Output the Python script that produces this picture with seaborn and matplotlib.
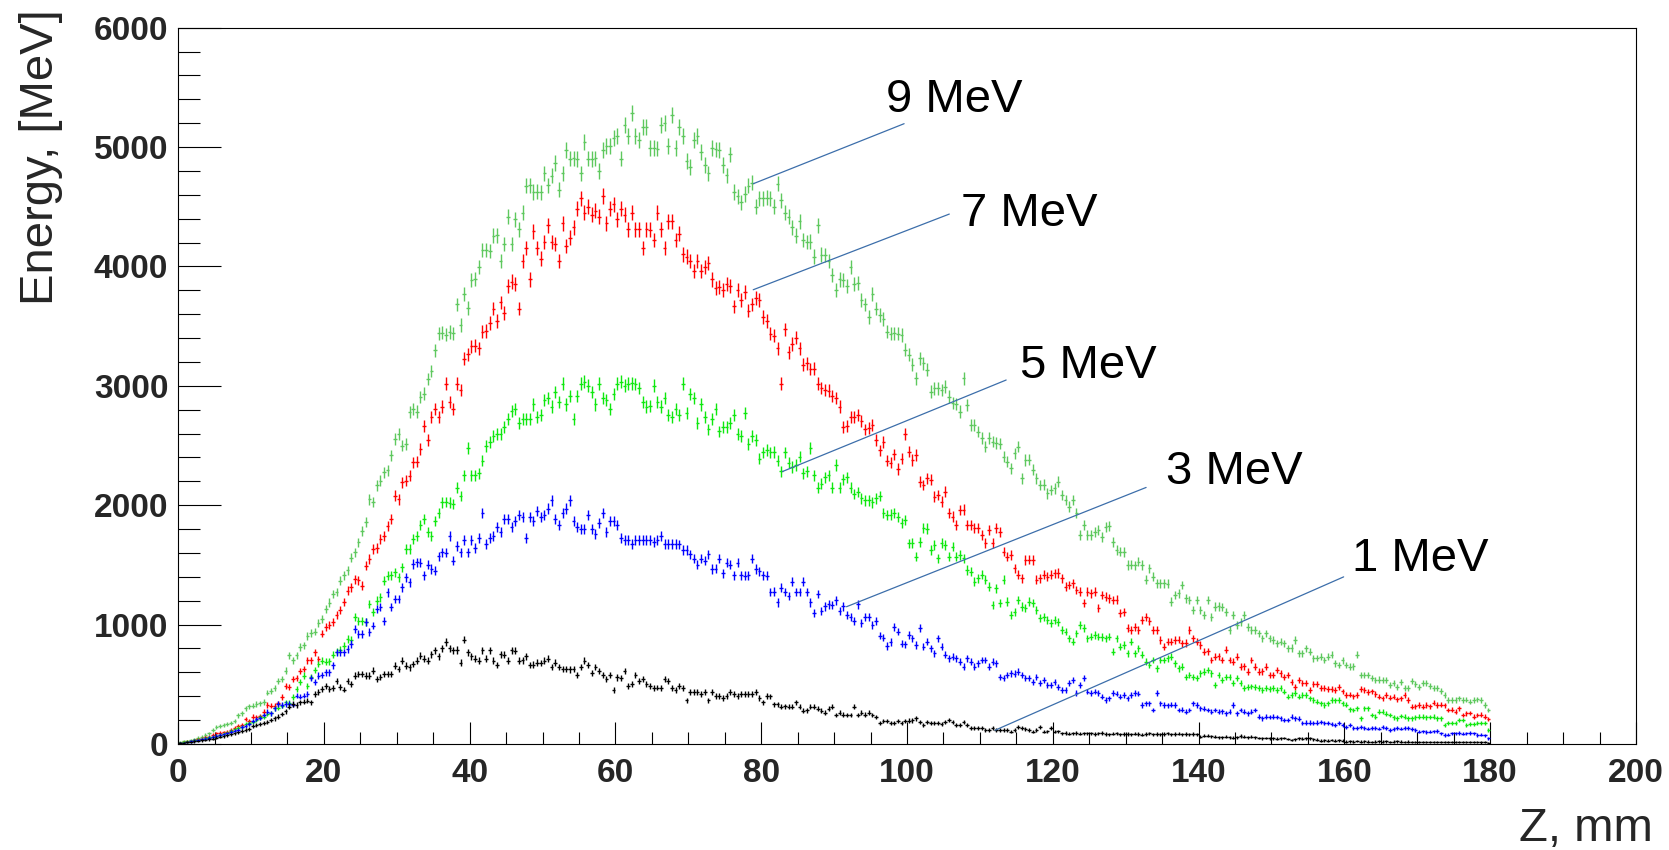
import matplotlib
matplotlib.use("Agg")
import matplotlib.pyplot as plt
from matplotlib.ticker import MultipleLocator
import numpy as np
import pandas as pd
import seaborn as sns

# energy deposit per 0.5 mm bin along Z (MeV), one row = 5 mm
mev9 = [
    [18, 22, 27, 35, 42, 52, 62, 75, 88, 120],
    [145, 152, 160, 168, 178, 195, 240, 258, 300, 318],
    [322, 335, 340, 352, 430, 445, 470, 530, 545, 615],
    [745, 700, 742, 812, 826, 905, 930, 942, 1015, 1045],
    [1128, 1185, 1255, 1272, 1368, 1412, 1455, 1562, 1605, 1688],
    [1785, 1860, 2050, 2028, 2168, 2205, 2275, 2292, 2418, 2555],
    [2598, 2500, 2515, 2780, 2808, 2785, 2908, 2935, 3058, 3124],
    [3298, 3440, 3445, 3430, 3450, 3440, 3682, 3510, 3770, 3650],
    [3890, 3895, 3996, 4136, 4140, 4130, 4258, 4262, 4048, 4188],
    [4415, 4190, 4397, 4310, 4450, 4677, 4680, 4624, 4625, 4620],
    [4781, 4680, 4760, 4869, 4642, 4780, 4973, 4903, 4905, 4900],
    [4781, 5043, 4903, 4900, 4905, 4799, 4973, 5008, 5010, 5078],
    [5095, 4903, 5183, 5095, 5287, 5095, 5060, 5165, 5165, 4990],
    [4992, 4988, 5183, 5200, 5008, 5270, 4991, 5165, 5095, 4886],
    [4834, 5060, 5095, 4956, 4851, 4781, 4991, 4980, 4973, 4851],
    [4764, 4938, 4624, 4589, 4537, 4607, 4677, 4701, 4502, 4572],
    [4572, 4575, 4570, 4502, 4694, 4554, 4450, 4415, 4328, 4258],
    [4380, 4223, 4206, 4208, 4083, 4345, 4100, 4098, 4048, 3926],
    [3804, 3891, 3888, 3839, 3996, 3856, 3858, 3717, 3682, 3577],
    [3769, 3647, 3595, 3560, 3455, 3438, 3440, 3436, 3427, 3301],
    [3259, 3176, 3064, 3231, 3190, 3134, 2952, 2980, 2978, 2966],
    [2994, 2910, 2854, 2850, 2785, 3064, 2840, 2673, 2670, 2617],
    [2561, 2491, 2561, 2533, 2519, 2517, 2408, 2366, 2310, 2435],
    [2491, 2226, 2380, 2382, 2296, 2226, 2170, 2172, 2100, 2128],
    [2142, 2198, 2086, 2044, 1989, 2044, 1933, 1751, 1835, 1751],
    [1751, 1779, 1793, 1737, 1821, 1823, 1695, 1626, 1612, 1610],
    [1500, 1502, 1498, 1528, 1500, 1374, 1472, 1402, 1346, 1348],
    [1346, 1344, 1193, 1248, 1262, 1332, 1220, 1207, 1123, 1207],
    [1123, 1081, 1207, 1067, 1151, 1153, 1150, 1109, 955, 1081],
    [997, 1025, 1081, 983, 955, 957, 927, 885, 927, 885],
    [871, 843, 857, 843, 802, 804, 871, 760, 762, 802],
    [774, 718, 720, 732, 704, 732, 746, 676, 662, 700],
    [662, 648, 650, 746, 578, 580, 576, 550, 536, 540],
    [538, 536, 494, 508, 475, 522, 466, 468, 531, 500],
    [475, 514, 512, 486, 466, 468, 447, 411, 369, 370],
    [368, 383, 369, 371, 355, 369, 375, 369, 327, 285],
]

mev7 = [
    [12, 16, 20, 24, 30, 39, 45, 55, 62, 75],
    [88, 95, 98, 103, 118, 131, 150, 160, 207, 195],
    [229, 225, 232, 271, 327, 320, 320, 341, 395, 489],
    [480, 545, 550, 612, 628, 700, 700, 770, 712, 925],
    [977, 997, 1025, 1080, 1123, 1190, 1285, 1313, 1382, 1370],
    [1327, 1494, 1550, 1634, 1640, 1718, 1746, 1829, 1885, 2081],
    [2050, 2193, 2207, 2248, 2360, 2365, 2470, 2660, 2548, 2740],
    [2809, 2740, 2827, 3019, 2862, 2809, 3019, 2966, 3228, 3263],
    [3333, 3336, 3316, 3455, 3458, 3525, 3647, 3542, 3699, 3612],
    [3839, 3874, 3856, 3647, 4048, 4153, 3891, 4293, 4153, 4066],
    [4206, 4345, 4206, 4188, 4048, 4363, 4171, 4240, 4328, 4485],
    [4572, 4450, 4502, 4432, 4467, 4415, 4590, 4363, 4485, 4520],
    [4397, 4485, 4432, 4310, 4450, 4310, 4312, 4153, 4310, 4308],
    [4223, 4450, 4310, 4153, 4380, 4378, 4223, 4275, 4101, 4083],
    [4048, 3961, 4048, 3963, 3996, 4031, 3891, 3822, 3824, 3804],
    [3856, 3840, 3665, 3804, 3717, 3787, 3630, 3682, 3734, 3717],
    [3577, 3542, 3438, 3420, 3316, 3019, 3473, 3281, 3350, 3403],
    [3316, 3176, 3190, 3141, 3143, 3019, 2984, 2967, 2960, 2914],
    [2900, 2827, 2652, 2665, 2740, 2742, 2757, 2705, 2635, 2650],
    [2670, 2548, 2460, 2530, 2373, 2356, 2426, 2303, 2391, 2600],
    [2449, 2380, 2422, 2198, 2170, 2226, 2212, 2072, 2086, 2030],
    [2114, 1933, 1905, 1835, 1961, 1963, 1835, 1837, 1807, 1809],
    [1751, 1681, 1793, 1681, 1807, 1779, 1612, 1570, 1584, 1472],
    [1416, 1388, 1542, 1544, 1540, 1374, 1388, 1416, 1402, 1418],
    [1430, 1432, 1388, 1318, 1332, 1346, 1290, 1276, 1179, 1276],
    [1262, 1276, 1137, 1248, 1235, 1220, 1207, 1209, 1095, 1109],
    [969, 955, 983, 957, 1040, 1060, 1030, 955, 955, 871],
    [816, 857, 857, 871, 873, 843, 845, 955, 885, 857],
    [829, 774, 776, 704, 732, 734, 704, 788, 704, 690],
    [732, 648, 650, 606, 704, 648, 606, 608, 648, 578],
    [578, 620, 592, 564, 578, 522, 480, 536, 508, 510],
    [450, 500, 505, 470, 468, 458, 460, 452, 475, 440],
    [411, 413, 400, 410, 458, 452, 438, 440, 420, 397],
    [383, 410, 388, 397, 374, 383, 411, 369, 313, 315],
    [327, 313, 327, 315, 346, 327, 329, 325, 285, 287],
    [271, 299, 243, 257, 259, 229, 243, 245, 229, 210],
]

mev5 = [
    [12, 16, 20, 25, 30, 36, 42, 47, 55, 62],
    [67, 75, 85, 95, 110, 122, 131, 145, 165, 172],
    [185, 201, 223, 229, 250, 257, 299, 305, 321, 349],
    [343, 395, 461, 517, 573, 489, 559, 620, 670, 698],
    [690, 692, 746, 774, 790, 824, 880, 870, 1061, 1033],
    [1033, 1019, 1173, 1103, 1201, 1229, 1369, 1410, 1412, 1438],
    [1397, 1480, 1634, 1636, 1718, 1746, 1832, 1885, 1780, 1745],
    [1867, 1937, 2024, 2026, 2022, 2010, 2146, 2077, 2251, 2478],
    [2251, 2253, 2269, 2373, 2495, 2530, 2583, 2600, 2598, 2652],
    [2722, 2792, 2809, 2687, 2722, 2724, 2720, 2844, 2740, 2757],
    [2879, 2897, 2827, 2949, 2862, 3019, 2844, 2914, 2722, 2914],
    [3019, 3036, 3001, 2949, 2844, 3019, 2897, 2879, 2809, 2932],
    [3019, 3036, 3001, 3019, 3021, 3017, 2984, 2862, 2827, 2829],
    [3001, 2862, 2827, 2897, 2757, 2740, 2809, 2757, 3019, 2774],
    [2932, 2897, 2687, 2844, 2740, 2635, 2722, 2809, 2618, 2652],
    [2652, 2687, 2757, 2600, 2583, 2774, 2513, 2583, 2548, 2391],
    [2443, 2461, 2443, 2445, 2373, 2286, 2443, 2356, 2321, 2338],
    [2408, 2268, 2286, 2478, 2251, 2146, 2181, 2233, 2251, 2146],
    [2338, 2146, 2216, 2233, 2146, 2094, 2111, 2059, 2042, 2040],
    [2024, 2059, 2077, 1937, 1920, 1922, 1937, 1902, 1850, 1877],
    [1680, 1681, 1570, 1695, 1807, 1805, 1626, 1668, 1556, 1681],
    [1668, 1570, 1654, 1570, 1584, 1556, 1458, 1444, 1360, 1388],
    [1416, 1374, 1318, 1165, 1304, 1179, 1374, 1193, 1081, 1109],
    [1207, 1151, 1137, 1193, 1179, 1123, 1053, 1067, 1039, 1011],
    [1039, 1025, 955, 941, 885, 857, 927, 997, 969, 885],
    [899, 913, 899, 897, 885, 899, 774, 885, 816, 830],
    [760, 857, 760, 802, 746, 690, 662, 704, 634, 704],
    [704, 718, 732, 676, 634, 648, 564, 578, 564, 550],
    [592, 606, 620, 592, 494, 578, 536, 564, 562, 508],
    [550, 508, 466, 480, 482, 480, 466, 452, 466, 464],
    [466, 452, 466, 439, 397, 411, 425, 397, 411, 409],
    [383, 369, 355, 341, 327, 341, 369, 367, 369, 341],
    [330, 290, 285, 299, 215, 299, 299, 243, 229, 271],
    [271, 255, 243, 223, 215, 235, 229, 215, 215, 223],
    [229, 229, 223, 225, 229, 215, 215, 159, 179, 179],
    [179, 201, 201, 159, 168, 168, 173, 179, 179, 117],
]

mev3 = [
    [8, 11, 16, 22, 28, 32, 38, 44, 52, 60],
    [67, 75, 82, 89, 100, 112, 120, 140, 150, 165],
    [190, 209, 220, 243, 270, 257, 300, 335, 327, 335],
    [335, 330, 405, 397, 405, 420, 555, 517, 573, 578],
    [600, 600, 660, 768, 768, 768, 796, 838, 963, 922],
    [922, 1019, 936, 992, 1131, 1145, 1033, 1271, 1145, 1215],
    [1215, 1313, 1397, 1355, 1508, 1522, 1520, 1413, 1501, 1466],
    [1450, 1571, 1605, 1603, 1745, 1536, 1658, 1605, 1710, 1605],
    [1710, 1640, 1728, 1937, 1675, 1728, 1745, 1815, 1780, 1885],
    [1885, 1815, 1867, 1920, 1902, 1728, 1902, 1867, 1954, 1902],
    [1920, 1972, 2042, 1885, 1832, 1937, 1972, 2042, 1867, 1815],
    [1797, 1799, 1920, 1797, 1762, 1850, 1937, 1780, 1867, 1865],
    [1832, 1728, 1710, 1712, 1675, 1710, 1708, 1712, 1706, 1710],
    [1693, 1710, 1745, 1675, 1677, 1673, 1675, 1672, 1623, 1625],
    [1588, 1553, 1501, 1553, 1536, 1588, 1466, 1468, 1553, 1431],
    [1518, 1501, 1413, 1518, 1415, 1411, 1413, 1553, 1466, 1448],
    [1413, 1411, 1274, 1276, 1187, 1309, 1274, 1239, 1361, 1274],
    [1274, 1361, 1274, 1187, 1099, 1256, 1117, 1152, 1169, 1167],
    [1204, 1117, 1152, 1082, 1064, 1030, 1169, 1012, 1064, 1062],
    [995, 1030, 907, 890, 820, 855, 977, 942, 840, 835],
    [913, 885, 829, 969, 816, 857, 802, 760, 885, 816],
    [746, 718, 732, 718, 690, 648, 718, 690, 648, 676],
    [704, 704, 648, 690, 676, 564, 550, 578, 592, 590],
    [606, 578, 550, 552, 522, 564, 508, 536, 494, 496],
    [522, 480, 452, 454, 508, 536, 425, 494, 550, 439],
    [425, 439, 425, 397, 369, 383, 425, 423, 397, 411],
    [383, 411, 425, 423, 327, 341, 341, 285, 425, 341],
    [327, 325, 329, 327, 285, 287, 271, 285, 341, 327],
    [299, 297, 285, 271, 285, 271, 273, 257, 271, 327],
    [257, 285, 271, 257, 271, 285, 229, 215, 229, 227],
    [229, 227, 215, 201, 203, 229, 215, 213, 173, 180],
    [180, 173, 180, 187, 173, 175, 171, 159, 173, 159],
    [145, 159, 131, 133, 145, 131, 129, 131, 133, 129],
    [140, 131, 117, 123, 131, 129, 131, 133, 125, 117],
    [103, 105, 101, 103, 106, 110, 89, 75, 77, 89],
    [89, 91, 87, 89, 92, 88, 75, 77, 73, 47],
]

mev1 = [
    [6, 10, 14, 18, 22, 26, 30, 34, 40, 46],
    [52, 60, 66, 72, 80, 89, 98, 108, 117, 128],
    [150, 159, 165, 173, 185, 200, 215, 230, 251, 275],
    [310, 335, 327, 349, 355, 363, 350, 419, 433, 461],
    [485, 461, 466, 531, 475, 456, 530, 503, 573, 587],
    [587, 573, 573, 614, 545, 559, 587, 589, 585, 656],
    [628, 698, 656, 642, 670, 698, 738, 715, 698, 750],
    [785, 733, 803, 855, 803, 785, 787, 681, 873, 768],
    [733, 715, 698, 785, 715, 785, 698, 663, 750, 748],
    [698, 785, 783, 698, 700, 733, 663, 665, 681, 679],
    [698, 715, 646, 681, 646, 628, 630, 626, 628, 576],
    [646, 698, 663, 593, 646, 611, 576, 541, 576, 454],
    [558, 556, 611, 489, 506, 576, 524, 541, 506, 489],
    [471, 473, 469, 541, 527, 471, 454, 489, 471, 366],
    [436, 438, 434, 419, 436, 366, 436, 401, 403, 384],
    [401, 436, 419, 401, 419, 421, 417, 419, 436, 384],
    [349, 401, 399, 332, 334, 314, 316, 312, 314, 349],
    [314, 279, 281, 314, 312, 297, 279, 262, 297, 314],
    [244, 262, 246, 242, 244, 314, 244, 262, 246, 262],
    [244, 227, 175, 192, 194, 175, 177, 192, 175, 192],
    [196, 198, 215, 187, 159, 187, 173, 175, 173, 171],
    [187, 201, 187, 159, 161, 187, 159, 131, 133, 131],
    [131, 117, 119, 131, 117, 115, 117, 119, 103, 117],
    [140, 131, 123, 117, 103, 117, 140, 103, 105, 131],
    [103, 105, 89, 91, 87, 89, 92, 86, 89, 90],
    [89, 84, 88, 92, 84, 80, 86, 90, 82, 85],
    [84, 80, 86, 84, 78, 84, 88, 82, 84, 80],
    [84, 88, 80, 84, 86, 82, 84, 80, 84, 82],
    [62, 70, 68, 64, 60, 56, 58, 62, 56, 54],
    [56, 67, 60, 56, 62, 56, 50, 47, 50, 47],
    [47, 45, 47, 50, 42, 34, 40, 47, 45, 47],
    [47, 40, 36, 28, 30, 28, 32, 28, 30, 28],
    [20, 22, 20, 24, 20, 22, 20, 18, 20, 22],
    [20, 22, 18, 20, 22, 20, 18, 20, 16, 18],
    [18, 16, 18, 15, 17, 16, 14, 16, 15, 17],
    [15, 16, 14, 15, 16, 14, 15, 13, 15, 12],
]

beams = ['9 MeV', '7 MeV', '5 MeV', '3 MeV', '1 MeV']
xticks = [0, 20, 40, 60, 80, 100, 120, 140, 160, 180, 200]
yticks = [0, 1000, 2000, 3000, 4000, 5000, 6000]

# label text position and the pointer line (start at the curve, end at the label)
label_pos = {'9 MeV': (97.1, 5290), '7 MeV': (107.4, 4335), '5 MeV': (115.5, 3068),
             '3 MeV': (135.5, 2176), '1 MeV': (161.0, 1445)}
pointer = {'9 MeV': ((78.9, 4693), (99.6, 5196)), '7 MeV': ((78.9, 3805), (105.8, 4439)),
           '5 MeV': ((82.9, 2282), (113.6, 3049)), '3 MeV': ((91.7, 1150), (132.8, 2149)),
           '1 MeV': ((112.1, 116), (159.9, 1400))}
colors = {'9 MeV': '#5ec85e', '7 MeV': '#ff0000', '5 MeV': '#0ee80e',
          '3 MeV': '#0000ff', '1 MeV': '#000000'}

bin_w = 0.5
rows = []
for name, series in zip(beams, [mev9, mev7, mev5, mev3, mev1]):
    vals = [v for r in series for v in r]
    for i, v in enumerate(vals):
        rows.append((name, bin_w * (i + 0.5), v))
df = pd.DataFrame(rows, columns=['beam', 'z', 'edep'])
df['err'] = 0.85 * np.sqrt(df['edep']) + 6

sns.set_theme(style='ticks')
plt.rcParams['font.family'] = ['Liberation Sans', 'DejaVu Sans']

fig = plt.figure(figsize=(16.69, 8.5), dpi=100)
ax = fig.add_axes([0.1067, 0.1247, 0.8735, 0.8427])

for name in beams:
    d = df[df['beam'] == name]
    ax.errorbar(d['z'], d['edep'], yerr=d['err'], xerr=bin_w / 2, fmt='none',
                ecolor=colors[name], elinewidth=1.0, capsize=0)

for name in beams:
    (x0, y0), (x1, y1) = pointer[name]
    ax.plot([x0, x1], [y0, y1], color='#3c6eaa', lw=0.9)
    ax.text(label_pos[name][0], label_pos[name][1], name, fontsize=34,
            ha='left', va='baseline', color='black')

ax.set_xlim(0, 200)
ax.set_ylim(0, 6000)
ax.set_xticks(xticks)
ax.set_xticklabels([str(t) for t in xticks], fontweight='bold')
ax.set_yticks(yticks)
ax.set_yticklabels([str(t) for t in yticks], fontweight='bold')
ax.xaxis.set_minor_locator(MultipleLocator(5))
ax.yaxis.set_minor_locator(MultipleLocator(200))

ax.tick_params(which='both', direction='in', top=False, right=False, color='black')
ax.tick_params(axis='y', which='major', length=31, width=0.8, pad=7, labelsize=24)
ax.tick_params(axis='y', which='minor', length=16, width=0.8)
ax.tick_params(axis='x', which='major', length=16, width=0.8, pad=10, labelsize=24)
ax.tick_params(axis='x', which='minor', length=8.6, width=0.8)
for s in ax.spines.values():
    s.set_visible(True)
    s.set_color('black')
    s.set_linewidth(0.8)

fig.text(41 / 1669, 1 - 9 / 850, 'Energy, [MeV]', rotation=90, ha='center', va='top', fontsize=34)
fig.text(1653 / 1669, 9 / 850, 'Z, mm', ha='right', va='baseline', fontsize=34)

fig.savefig('out.png', dpi=100)
